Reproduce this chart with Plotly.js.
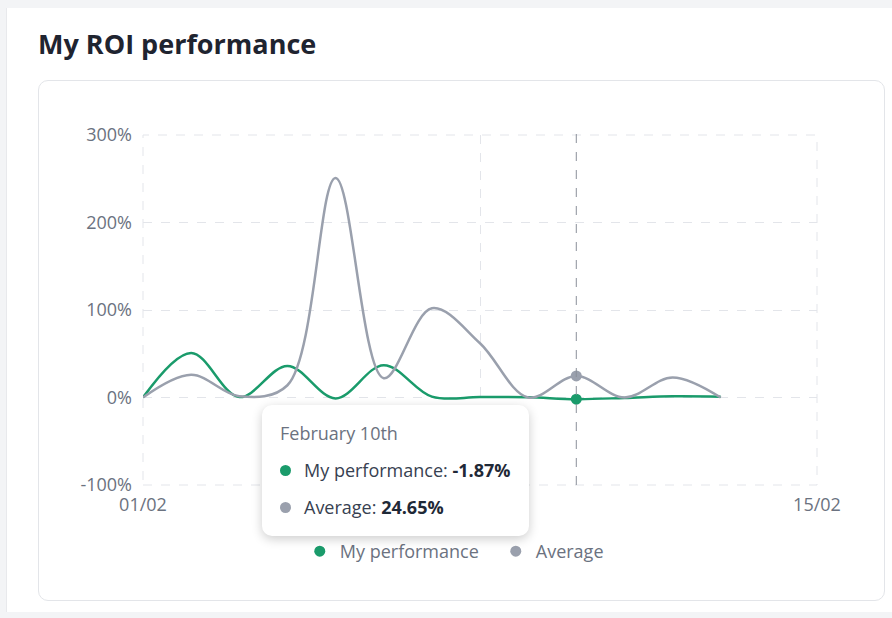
<!DOCTYPE html>
<html>
<head>
<meta charset="utf-8">
<script src="https://cdn.plot.ly/plotly-3.0.1.min.js"></script>
<style>
  html, body { margin: 0; padding: 0; width: 892px; height: 618px; overflow: hidden; background: #f3f4f6; font-family: "Open Sans", sans-serif; }
  #outer { position: absolute; left: 6px; top: 8px; width: 900px; height: 604px; background: #ffffff; border-left: 1px solid #e8e9ec; }
  #inner { position: absolute; left: 38px; top: 80px; width: 845px; height: 519px; background: #ffffff; border: 1px solid #e3e5e9; border-radius: 10px; }
  #chart { position: absolute; left: 0; top: 0; width: 892px; height: 618px; z-index: 1; }
  #tip { position: absolute; left: 262px; top: 405px; width: 267px; height: 131px; background: #ffffff; border-radius: 10px; box-shadow: 0 3px 11px rgba(0,0,0,0.2); z-index: 2; color: #374151; font-size: 18px; }
  #tip .row { position: absolute; left: 0; white-space: nowrap; line-height: 22px; }
  #tip .head { left: 18px; top: 17px; color: #6b7280; }
  #tip .dot { display: inline-block; width: 11px; height: 11px; border-radius: 50%; margin-right: 13px; vertical-align: 1px; }
  #tip b { color: #1f2937; font-weight: 700; }
</style>
</head>
<body>
<div id="outer"></div>
<div id="inner"></div>
<div id="chart"></div>
<div id="tip">
  <div class="row head" id="tipHead"></div>
  <div class="row" style="left:18px; top:54px;" id="tipRow1"></div>
  <div class="row" style="left:18px; top:91px;" id="tipRow2"></div>
</div>
<script>
// ---- data ----
const dates = ['2024-02-01','2024-02-02','2024-02-03','2024-02-04','2024-02-05','2024-02-06','2024-02-07',
               '2024-02-08','2024-02-09','2024-02-10','2024-02-11','2024-02-12','2024-02-13'];
const myPerformance = [0, 51, 0.5, 36, -1, 37, 1, 0.5, 0.3, -1.87, -0.5, 1.5, 1];
const average       = [0, 26, 1.5, 14, 251, 22, 102, 62, 0, 24.65, 0, 23, 0];
const seriesNames = ['My performance', 'Average'];
const xTickVals = ['2024-02-01', '2024-02-08', '2024-02-15'];
const xTickText = ['01/02', '08/02', '15/02'];
const yTickVals = [-100, 0, 100, 200, 300];
const yTickText = ['-100%', '0%', '100%', '200%', '300%'];
const hoverIndex = 9;
const hoverLabel = 'February 10th';

const green = '#1a9b6b';
const grey = '#9aa0ad';
const gridColor = '#e3e5ea';

const traces = [
  { x: dates, y: myPerformance, type: 'scatter', mode: 'lines', name: seriesNames[0], showlegend: false,
    line: { color: green, width: 2.5, shape: 'spline', smoothing: 1 }, hoverinfo: 'skip' },
  { x: dates, y: average, type: 'scatter', mode: 'lines', name: seriesNames[1], showlegend: false,
    line: { color: grey, width: 2.5, shape: 'spline', smoothing: 1 }, hoverinfo: 'skip' },
  { x: [dates[hoverIndex]], y: [myPerformance[hoverIndex]], type: 'scatter', mode: 'markers', name: seriesNames[0],
    marker: { color: green, size: 11 }, hoverinfo: 'skip' },
  { x: [dates[hoverIndex]], y: [average[hoverIndex]], type: 'scatter', mode: 'markers', name: seriesNames[1],
    marker: { color: grey, size: 11 }, hoverinfo: 'skip' }
];

const layout = {
  width: 892, height: 618,
  margin: { l: 143, r: 75, t: 135, b: 133 },
  paper_bgcolor: 'rgba(0,0,0,0)',
  plot_bgcolor: 'rgba(0,0,0,0)',
  font: { family: '"Open Sans", sans-serif', color: '#6b7280', size: 18 },
  title: {
    text: 'My ROI performance',
    font: { family: '"Open Sans", sans-serif', size: 27, weight: 700, color: '#1f2430' },
    xref: 'container', yref: 'container', x: 38 / 892, xanchor: 'left', y: 1 - 45 / 618, yanchor: 'middle'
  },
  xaxis: {
    type: 'date', range: ['2024-02-01', '2024-02-15'],
    tickvals: xTickVals, ticktext: xTickText,
    showgrid: true, gridcolor: gridColor, griddash: 'dash', gridwidth: 1,
    zeroline: false, showline: false, ticks: '', ticklabelstandoff: 7,
    tickfont: { size: 18, color: '#6b7280' }, fixedrange: true
  },
  yaxis: {
    range: [-100, 300], tickvals: yTickVals, ticktext: yTickText,
    showgrid: true, gridcolor: gridColor, griddash: 'dash', gridwidth: 1,
    zeroline: false, showline: false, ticks: '', ticklabelstandoff: 10,
    tickfont: { size: 18, color: '#6b7280' }, fixedrange: true
  },
  legend: {
    orientation: 'h', x: (300 - 143) / 675, xanchor: 'left', y: -0.19, yanchor: 'middle',
    entrywidth: 151, entrywidthmode: 'pixels',
    font: { size: 18, color: '#6b7280' }, bgcolor: 'rgba(0,0,0,0)', itemclick: false, itemdoubleclick: false
  },
  shapes: [
    { type: 'rect', xref: 'paper', yref: 'paper', x0: 0, x1: 1, y0: 0, y1: 1,
      line: { color: gridColor, width: 1, dash: 'dash' }, layer: 'below' },
    { type: 'line', xref: 'x', yref: 'paper', x0: dates[hoverIndex], x1: dates[hoverIndex], y0: 0, y1: 1.005,
      line: { color: '#8a8f99', width: 1, dash: 'dash' }, layer: 'above' }
  ],
  hovermode: false
};

Plotly.newPlot('chart', traces, layout, { displayModeBar: false, staticPlot: true });

function fmt(v) { return v.toFixed(2) + '%'; }
document.getElementById('tipHead').textContent = hoverLabel;
document.getElementById('tipRow1').innerHTML = '<span class="dot" style="background:' + green + '"></span>' +
  seriesNames[0] + ': <b>' + fmt(myPerformance[hoverIndex]) + '</b>';
document.getElementById('tipRow2').innerHTML = '<span class="dot" style="background:' + grey + '"></span>' +
  seriesNames[1] + ': <b>' + fmt(average[hoverIndex]) + '</b>';
</script>
</body>
</html>
